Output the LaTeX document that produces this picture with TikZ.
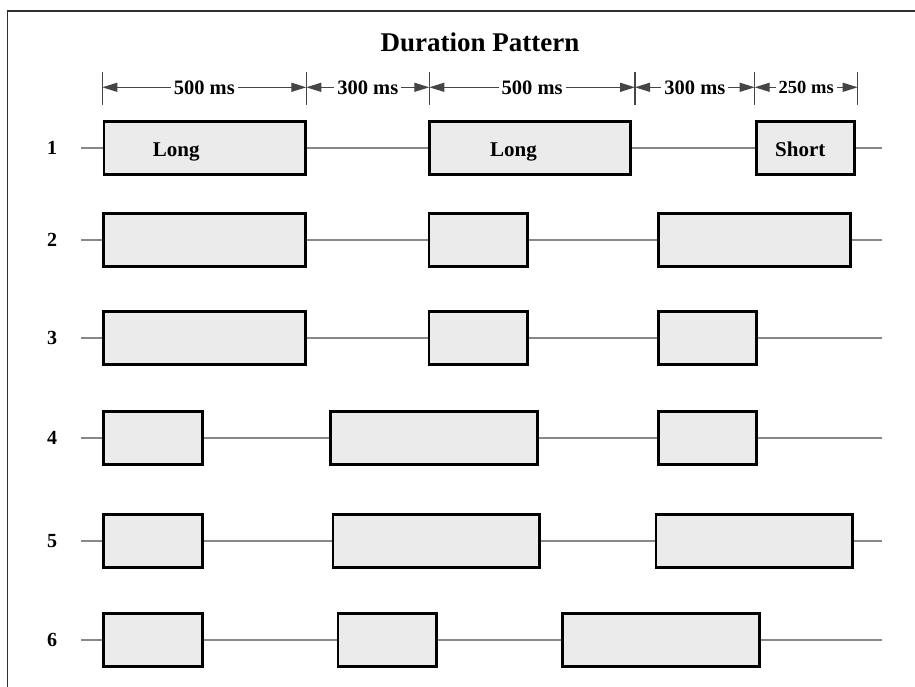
\documentclass[tikz,border=0pt]{standalone}
\usepackage{fontspec}
\setmainfont{Liberation Serif}
\usetikzlibrary{arrows.meta}
\definecolor{boxfill}{HTML}{EBEBEB}
\definecolor{wire}{HTML}{888888}
\definecolor{dimink}{HTML}{454545}
\definecolor{frameink}{HTML}{303030}
% one pulse: name, left x, right x, row y
\newcommand\pulsebox[4]{\node[pulse, minimum width={#3-#2-2.6}] (#1) at ({(#2+#3)/2},#4) {};}
\begin{document}
\begin{tikzpicture}[x=1pt,y=-1pt,
  pulse/.style={draw=black, line width=2.6pt, fill=boxfill, inner sep=0pt, minimum height=53.4pt},
  wireline/.style={draw=wire, line width=2.7pt},
  frameline/.style={draw=frameink, line width=1.3pt},
  rowlabel/.style={font=\fontsize{20}{24}\selectfont\bfseries, inner sep=0pt},
  boxlabel/.style={font=\fontsize{21}{25}\selectfont\bfseries, inner sep=0pt, anchor=base west},
  titlelabel/.style={font=\fontsize{27}{32}\selectfont\bfseries, inner sep=0pt, anchor=base},
  dimtick/.style={draw=dimink, line width=1.2pt},
  dimarrow/.style={draw=dimink, line width=1.3pt,
    {Triangle[length=15pt,width=9pt]}-{Triangle[length=15pt,width=9pt]}},
  dimlabel/.style={font=\fontsize{20.5}{24}\selectfont\bfseries, fill=white, inner xsep=3pt, inner ysep=1pt},
  dimlabelsmall/.style={dimlabel, font=\fontsize{18.5}{22}\selectfont\bfseries},
]
\useasboundingbox (0,0) rectangle (915,687);

% outer frame (top and left edges)
\coordinate (frameBL) at (7.3,687);
\coordinate (frameTL) at (7.3,11);
\coordinate (frameTR) at (915,11);
\draw[frameline] (frameBL) -- (frameTL) -- (frameTR);

% title
\node[titlelabel] (title) at (480,51.7) {Duration Pattern};

% dimension line
\coordinate (d0) at (102.3,87.3);
\coordinate (d1) at (306.3,87.3);
\coordinate (d2) at (429.3,87.3);
\coordinate (d3) at (635,87.3);
\coordinate (d4) at (754.7,87.3);
\coordinate (d5) at (857.7,87.3);
\foreach \d in {d0,d1,d2,d3,d4,d5}
  \draw[dimtick] ([yshift=15pt]\d) -- ([yshift=-18pt]\d);
\draw[dimarrow] (d0) -- (d1) node[dimlabel, midway] (dl1) {500 ms};
\draw[dimarrow] (d1) -- (d2) node[dimlabel, midway] (dl2) {300 ms};
\draw[dimarrow] (d2) -- (d3) node[dimlabel, midway] (dl3) {500 ms};
\draw[dimarrow] (d3) -- (d4) node[dimlabel, midway] (dl4) {300 ms};
\draw[dimarrow] (d4) -- (d5) node[dimlabelsmall, midway] (dl5) {250 ms};

% row numbers
\node[rowlabel] (n1) at (52,148) {1};
\node[rowlabel] (n2) at (52,240) {2};
\node[rowlabel] (n3) at (52,338) {3};
\node[rowlabel] (n4) at (52,438) {4};
\node[rowlabel] (n5) at (52,541) {5};
\node[rowlabel] (n6) at (52,640) {6};

% pulses
\pulsebox{p11}{102.5}{306.5}{148}
\pulsebox{p12}{428}{632}{148}
\pulsebox{p13}{755}{856}{148}
\pulsebox{p21}{102}{307}{240}
\pulsebox{p22}{427.5}{528.5}{240}
\pulsebox{p23}{657}{851.5}{240}
\pulsebox{p31}{102}{307}{338}
\pulsebox{p32}{427.5}{528.5}{338}
\pulsebox{p33}{657}{758}{338}
\pulsebox{p41}{102}{204}{438}
\pulsebox{p42}{329}{539}{438}
\pulsebox{p43}{657}{758}{438}
\pulsebox{p51}{102}{204}{541}
\pulsebox{p52}{331.5}{541}{541}
\pulsebox{p53}{654.5}{854}{541}
\pulsebox{p61}{102}{204}{640}
\pulsebox{p62}{336.5}{437.5}{640}
\pulsebox{p63}{561}{760.5}{640}

% wire ends for each row
\foreach \r/\y in {1/148,2/240,3/338,4/438,5/541,6/640}{
  \coordinate (w\r s) at (81,\y);
  \coordinate (w\r e) at (882,\y);
}
\foreach \r in {1,...,6}
  \draw[wireline] (w\r s) -- (p\r1.west) (p\r1.east) -- (p\r2.west)
                  (p\r2.east) -- (p\r3.west) (p\r3.east) -- (w\r e);

% pulse labels in row 1
\node[boxlabel] (lab1) at (152.7,156.7) {Long};
\node[boxlabel] (lab2) at (490,156.7) {Long};
\node[boxlabel] (lab3) at (775,156.7) {Short};
\end{tikzpicture}
\end{document}
